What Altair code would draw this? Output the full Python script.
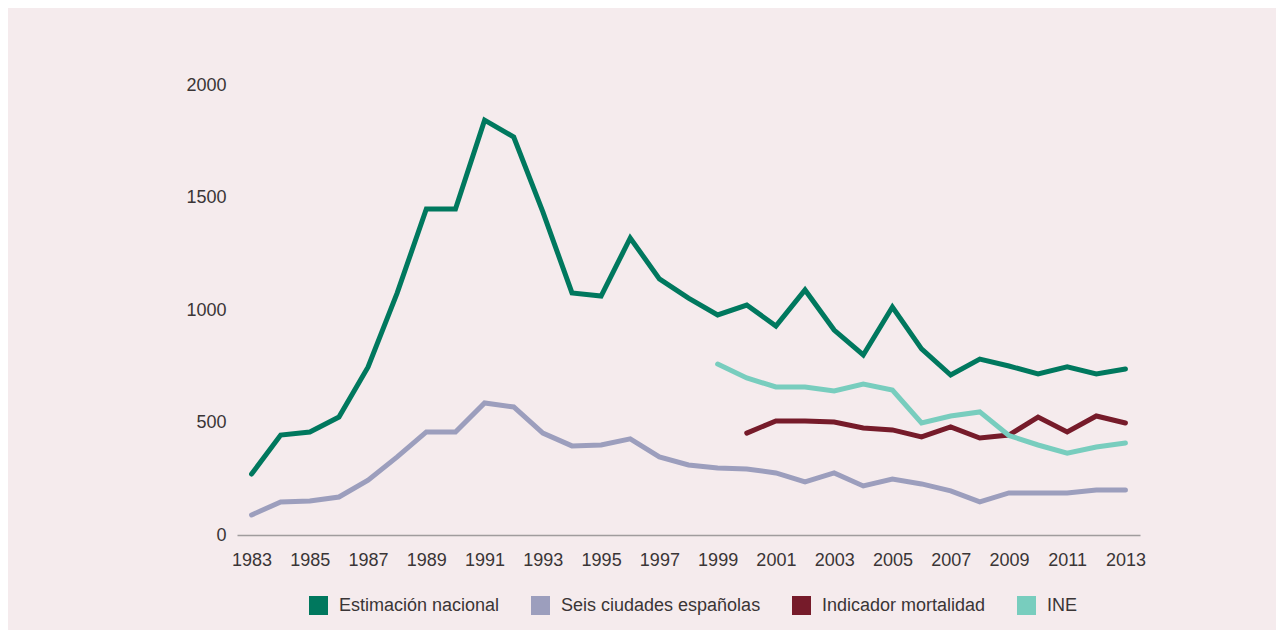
import altair as alt
import pandas as pd

years_all = list(range(1983, 2014))

estimacion_nacional = [271, 444, 458, 524, 747, 1076, 1449, 1449, 1844, 1769, 1436, 1076, 1062,
                       1320, 1138, 1053, 978, 1022, 929, 1089, 911, 800, 1013, 827, 711, 782,
                       751, 716, 747, 716, 738]
seis_ciudades = [89, 147, 151, 169, 244, 347, 458, 458, 587, 569, 453, 396, 400, 427, 347, 311,
                 298, 293, 276, 236, 276, 218, 249, 227, 196, 147, 187, 187, 187, 200, 200]

years_mort = list(range(2000, 2014))
indicador_mortalidad = [453, 507, 507, 502, 476, 467, 436, 480, 431, 444, 524, 458, 529, 498]

years_ine = list(range(1999, 2014))
ine = [760, 698, 658, 658, 640, 671, 644, 498, 529, 547, 442, 400, 364, 391, 409]

series_names = ["Estimación nacional", "Seis ciudades españolas", "Indicador mortalidad", "INE"]
series_colors = ["#00785e", "#9c9ebd", "#761b2a", "#78cdbe"]

x_ticks = list(range(1983, 2014, 2))

rows = []
for name, yrs, vals in [
    (series_names[0], years_all, estimacion_nacional),
    (series_names[1], years_all, seis_ciudades),
    (series_names[2], years_mort, indicador_mortalidad),
    (series_names[3], years_ine, ine),
]:
    for y, v in zip(yrs, vals):
        rows.append({"serie": name, "year": y, "value": v})
df = pd.DataFrame(rows)

font = "Liberation Sans"
text_color = "#3a3536"

chart = alt.Chart(df).mark_line(strokeWidth=5, strokeCap="round").encode(
    x=alt.X("year:Q",
            scale=alt.Scale(domain=[1982.5, 2013.5], nice=False, zero=False),
            axis=alt.Axis(values=x_ticks, format="d", title=None, ticks=False, grid=False,
                          domain=True, domainColor="#a09c9d", domainWidth=1.5,
                          labelFont=font, labelFontSize=18, labelColor=text_color,
                          labelPadding=16, labelFlush=False)),
    y=alt.Y("value:Q",
            scale=alt.Scale(domain=[0, 2000], nice=False),
            axis=alt.Axis(values=[0, 500, 1000, 1500, 2000], format="d", title=None,
                          ticks=False, grid=False, domain=False, labelFont=font,
                          labelFontSize=18, labelColor=text_color, labelPadding=11)),
    color=alt.Color("serie:N",
                    scale=alt.Scale(domain=series_names, range=series_colors),
                    sort=series_names,
                    legend=alt.Legend(title=None, orient="none", direction="horizontal",
                                      legendX=72, legendY=511, symbolType="square",
                                      symbolSize=1, symbolStrokeWidth=18,
                                      symbolOpacity=1,
                                      labelFont=font, labelFontSize=18, labelLimit=400,
                                      labelColor=text_color, labelOffset=11,
                                      columnPadding=4, padding=0)),
    detail="serie:N",
).properties(
    width=903,
    height=450,
    background="#f5ebed",
    padding={"left": 229, "top": 77, "right": 136, "bottom": 95},
    autosize=alt.AutoSizeParams(type="none"),
).configure_view(stroke=None)

chart.save("out.html", embed_options={"renderer": "svg", "actions": False})
